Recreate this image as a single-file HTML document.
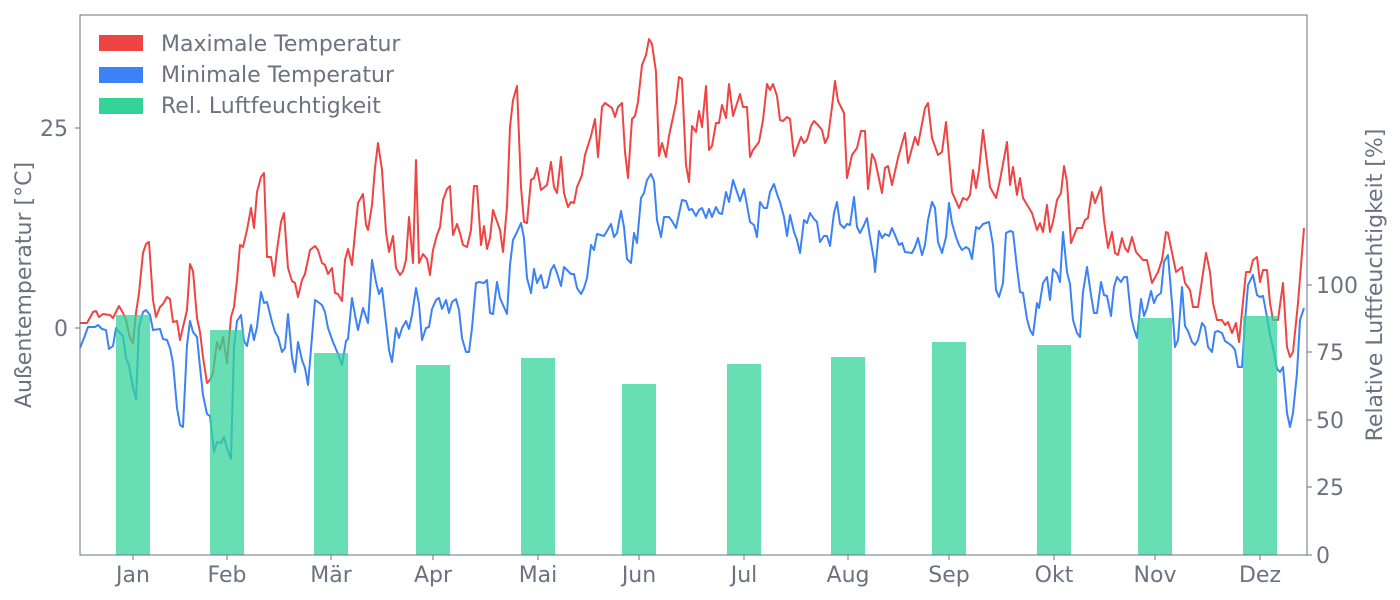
<!DOCTYPE html>
<html><head><meta charset="utf-8"><style>
html,body{margin:0;padding:0;background:#fff;}
svg{display:block;}
text{font-family:"DejaVu Sans","Liberation Sans",sans-serif;fill:#6b7280;}
</style></head><body>
<svg width="1400" height="600" viewBox="0 0 1400 600" xmlns="http://www.w3.org/2000/svg">
<rect width="1400" height="600" fill="#fff"/>
<g fill="none" stroke-width="2" stroke-linejoin="round">
<polyline stroke="#ef4444" points="80,323 87,323 93,312 96,311 99,317 103,314 110,315 113,318 119,306 123,313 126,320 130,338 133,343 136,313 139,293 143,253 146,244 149,242 153,300 156,317 160,307 163,304 167,297 170,299 173,322 177,321 180,340 187,310 190,264 193,271 197,318 200,332 203,357 207,383 210,380 213,373 217,342 220,350 223,337 227,363 231,317 234,307 237,280 240,245 243,247 247,230 251,208 254,228 257,192 261,177 264,173 267,257 271,257 274,276 277,250 281,222 284,213 288,268 292,281 295,283 298,297 302,280 305,274 310,250 315,246 318,250 322,263 325,265 328,274 332,268 335,293 338,294 342,301 345,260 348,249 352,265 355,233 358,203 363,194 366,225 368,230 372,205 375,168 378,143 382,170 386,232 389,252 393,236 396,268 400,275 403,271 406,260 409,217 413,263 416,160 419,263 423,254 427,259 430,275 433,250 437,235 440,227 443,200 447,189 450,186 453,235 457,224 460,233 463,245 467,247 471,230 474,186 477,186 481,245 484,226 487,249 490,238 493,210 500,230 503,252 507,207 510,127 513,100 517,86 521,187 524,222 527,223 531,180 534,178 537,168 541,190 547,185 551,162 554,187 557,193 561,157 564,193 568,207 571,202 574,203 577,187 582,175 585,155 591,136 595,119 598,157 602,107 605,103 612,108 615,117 618,107 622,103 625,152 628,178 632,119 635,116 638,102 642,65 646,55 649,39 652,44 656,72 659,156 662,143 666,157 669,136 676,103 679,77 682,79 686,165 689,182 692,126 696,132 699,111 702,127 706,86 709,150 712,146 716,123 719,123 722,105 726,118 729,84 733,116 740,94 743,107 747,107 750,157 753,150 759,142 763,120 767,84 770,90 773,84 777,96 780,120 783,121 787,117 790,119 794,156 801,137 804,143 807,140 811,126 814,121 818,125 822,130 825,143 828,137 832,107 835,81 838,101 844,113 847,178 852,155 857,148 861,131 865,131 868,189 872,154 875,160 882,193 885,168 888,166 892,185 898,158 905,133 908,163 915,137 918,145 925,108 928,103 932,138 938,155 942,152 946,122 952,192 959,208 963,198 967,200 970,195 973,170 976,188 979,170 983,130 990,187 996,198 1000,180 1007,142 1010,185 1013,167 1017,195 1020,178 1023,198 1032,213 1037,230 1040,223 1043,232 1047,205 1050,232 1053,222 1057,200 1061,193 1064,166 1067,182 1071,243 1077,228 1082,228 1085,220 1088,218 1092,192 1095,203 1101,187 1104,220 1108,248 1112,232 1115,253 1118,255 1122,238 1125,248 1128,252 1132,237 1136,252 1143,260 1147,260 1152,283 1158,272 1162,260 1166,232 1168,233 1176,272 1182,267 1185,283 1190,290 1193,307 1198,307 1206,253 1210,272 1213,303 1217,320 1222,320 1225,325 1228,322 1232,333 1236,323 1239,342 1246,272 1250,272 1253,260 1257,257 1260,282 1263,270 1267,270 1270,303 1273,320 1278,320 1283,283 1287,347 1290,357 1293,352 1298,303 1304,228"/>
<polyline stroke="#3b82f6" points="80,348 84,338 88,327 95,327 98,325 102,329 106,330 109,349 113,346 116,328 119,332 123,336 126,358 129,365 133,388 136,399 139,327 143,312 146,310 150,315 153,330 160,329 163,339 167,340 170,348 173,363 177,408 180,425 183,427 187,345 190,321 193,332 197,337 200,367 203,395 207,414 210,416 214,452 217,442 221,443 224,437 227,448 231,459 234,347 237,321 241,315 244,341 247,346 251,325 254,340 257,327 261,292 264,303 267,302 272,322 275,332 278,337 282,352 285,348 288,314 292,357 295,372 298,342 302,360 305,368 308,385 312,337 315,300 318,302 322,305 325,312 328,328 333,342 338,354 342,365 346,341 348,339 352,298 355,315 358,330 363,308 368,323 372,260 376,282 379,294 382,288 386,323 389,350 392,362 396,328 399,338 402,328 406,321 409,329 412,315 416,288 419,304 422,340 426,328 429,327 432,309 436,300 439,298 442,309 446,300 449,313 452,302 456,299 459,310 462,338 466,352 469,352 472,328 476,283 479,282 484,283 487,280 490,313 493,314 497,282 500,298 503,305 507,314 510,265 513,240 517,232 521,223 524,238 527,278 531,293 534,269 537,283 541,275 544,288 547,287 551,270 554,265 557,273 561,286 564,267 567,270 571,274 574,274 577,288 581,294 584,288 587,278 591,245 594,250 597,234 604,236 607,231 611,224 614,237 617,233 621,211 624,227 627,259 631,263 634,233 637,243 641,198 644,193 647,180 651,174 654,181 657,220 661,237 664,217 669,217 672,221 676,228 679,214 682,200 686,201 689,210 692,209 696,216 699,210 702,208 706,218 709,209 712,217 716,207 719,213 722,214 726,192 729,202 733,180 737,192 740,201 744,189 747,205 750,222 754,225 757,237 760,202 764,208 767,208 770,192 774,184 777,194 780,202 784,217 787,236 790,215 794,232 797,240 800,253 804,220 807,223 810,213 814,219 817,222 820,242 824,236 827,236 830,246 834,213 837,202 840,224 844,228 847,224 850,225 854,197 857,227 860,233 864,225 867,218 870,237 874,260 875,272 879,231 882,238 885,234 889,236 892,228 895,235 899,245 902,243 905,252 912,253 915,247 918,238 922,255 925,245 928,220 932,202 935,208 938,242 942,253 946,237 949,203 952,223 956,237 959,245 962,250 966,247 969,249 972,259 976,227 979,229 983,224 986,223 989,222 993,245 996,290 999,297 1003,283 1006,233 1010,231 1013,232 1017,268 1020,292 1023,293 1027,319 1030,330 1033,335 1037,303 1039,308 1043,283 1047,277 1050,300 1053,269 1057,273 1060,282 1063,232 1067,272 1070,284 1073,320 1077,333 1080,337 1083,292 1087,267 1091,295 1094,313 1097,313 1101,282 1104,295 1107,296 1111,316 1114,287 1117,277 1121,282 1124,277 1127,277 1131,316 1134,329 1137,338 1141,299 1144,316 1147,308 1151,291 1154,303 1157,296 1161,293 1164,262 1168,255 1172,303 1175,347 1178,340 1182,287 1185,326 1188,331 1192,342 1195,345 1198,340 1202,323 1205,327 1208,347 1212,352 1215,332 1218,331 1222,333 1225,341 1228,343 1232,346 1235,350 1238,367 1242,367 1245,322 1248,285 1253,275 1257,295 1260,297 1263,296 1267,317 1270,335 1273,348 1277,369 1280,372 1283,367 1287,413 1290,427 1293,413 1297,373 1300,320 1304,308"/>
</g>
<g fill="#34d399" fill-opacity="0.75">
<rect x="116" y="315" width="34" height="240"/>
<rect x="210" y="330" width="34" height="225"/>
<rect x="314" y="353" width="34" height="202"/>
<rect x="416" y="365" width="34" height="190"/>
<rect x="521" y="358" width="34" height="197"/>
<rect x="622" y="384" width="34" height="171"/>
<rect x="727" y="364" width="34" height="191"/>
<rect x="831" y="357" width="34" height="198"/>
<rect x="932" y="342" width="34" height="213"/>
<rect x="1037" y="345" width="34" height="210"/>
<rect x="1138" y="318" width="34" height="237"/>
<rect x="1243" y="316" width="34" height="239"/>
</g>
<rect x="80" y="15" width="1227" height="540" fill="none" stroke="#6b7280" stroke-width="1"/>
<g stroke="#6b7280" stroke-width="1">
<line x1="75" y1="128" x2="80" y2="128"/><line x1="75" y1="328" x2="80" y2="328"/>
<line x1="1307" y1="555" x2="1312" y2="555"/><line x1="1307" y1="487" x2="1312" y2="487"/><line x1="1307" y1="420" x2="1312" y2="420"/><line x1="1307" y1="352" x2="1312" y2="352"/><line x1="1307" y1="285" x2="1312" y2="285"/>
<line x1="133" y1="555" x2="133" y2="560"/><line x1="227" y1="555" x2="227" y2="560"/><line x1="331" y1="555" x2="331" y2="560"/><line x1="433" y1="555" x2="433" y2="560"/><line x1="538" y1="555" x2="538" y2="560"/><line x1="639" y1="555" x2="639" y2="560"/><line x1="744" y1="555" x2="744" y2="560"/><line x1="848" y1="555" x2="848" y2="560"/><line x1="949" y1="555" x2="949" y2="560"/><line x1="1054" y1="555" x2="1054" y2="560"/><line x1="1155" y1="555" x2="1155" y2="560"/><line x1="1260" y1="555" x2="1260" y2="560"/>
</g>
<g font-size="22">
<text x="68" y="136" text-anchor="end">25</text>
<text x="68" y="336" text-anchor="end">0</text>
<text x="1316" y="563">0</text><text x="1316" y="495">25</text><text x="1316" y="428">50</text><text x="1316" y="360">75</text><text x="1316" y="293">100</text>
<g text-anchor="middle">
<text x="133" y="582">Jan</text><text x="227" y="582">Feb</text><text x="331" y="582">Mär</text><text x="433" y="582">Apr</text><text x="538" y="582">Mai</text><text x="639" y="582">Jun</text><text x="744" y="582">Jul</text><text x="848" y="582">Aug</text><text x="949" y="582">Sep</text><text x="1054" y="582">Okt</text><text x="1155" y="582">Nov</text><text x="1260" y="582">Dez</text>
</g>
<text transform="translate(31,285) rotate(-90)" text-anchor="middle">Außentemperatur [°C]</text>
<text transform="translate(1382,285) rotate(-90)" text-anchor="middle">Relative Luftfeuchtigkeit [%]</text>
<rect x="99" y="35" width="44" height="16" fill="#ef4444"/>
<rect x="99" y="67" width="44" height="16" fill="#3b82f6"/>
<rect x="99" y="98" width="44" height="16" fill="#34d399"/>
<text x="161" y="51">Maximale Temperatur</text>
<text x="161" y="82">Minimale Temperatur</text>
<text x="161" y="113">Rel. Luftfeuchtigkeit</text>
</g>
</svg>
</body></html>
